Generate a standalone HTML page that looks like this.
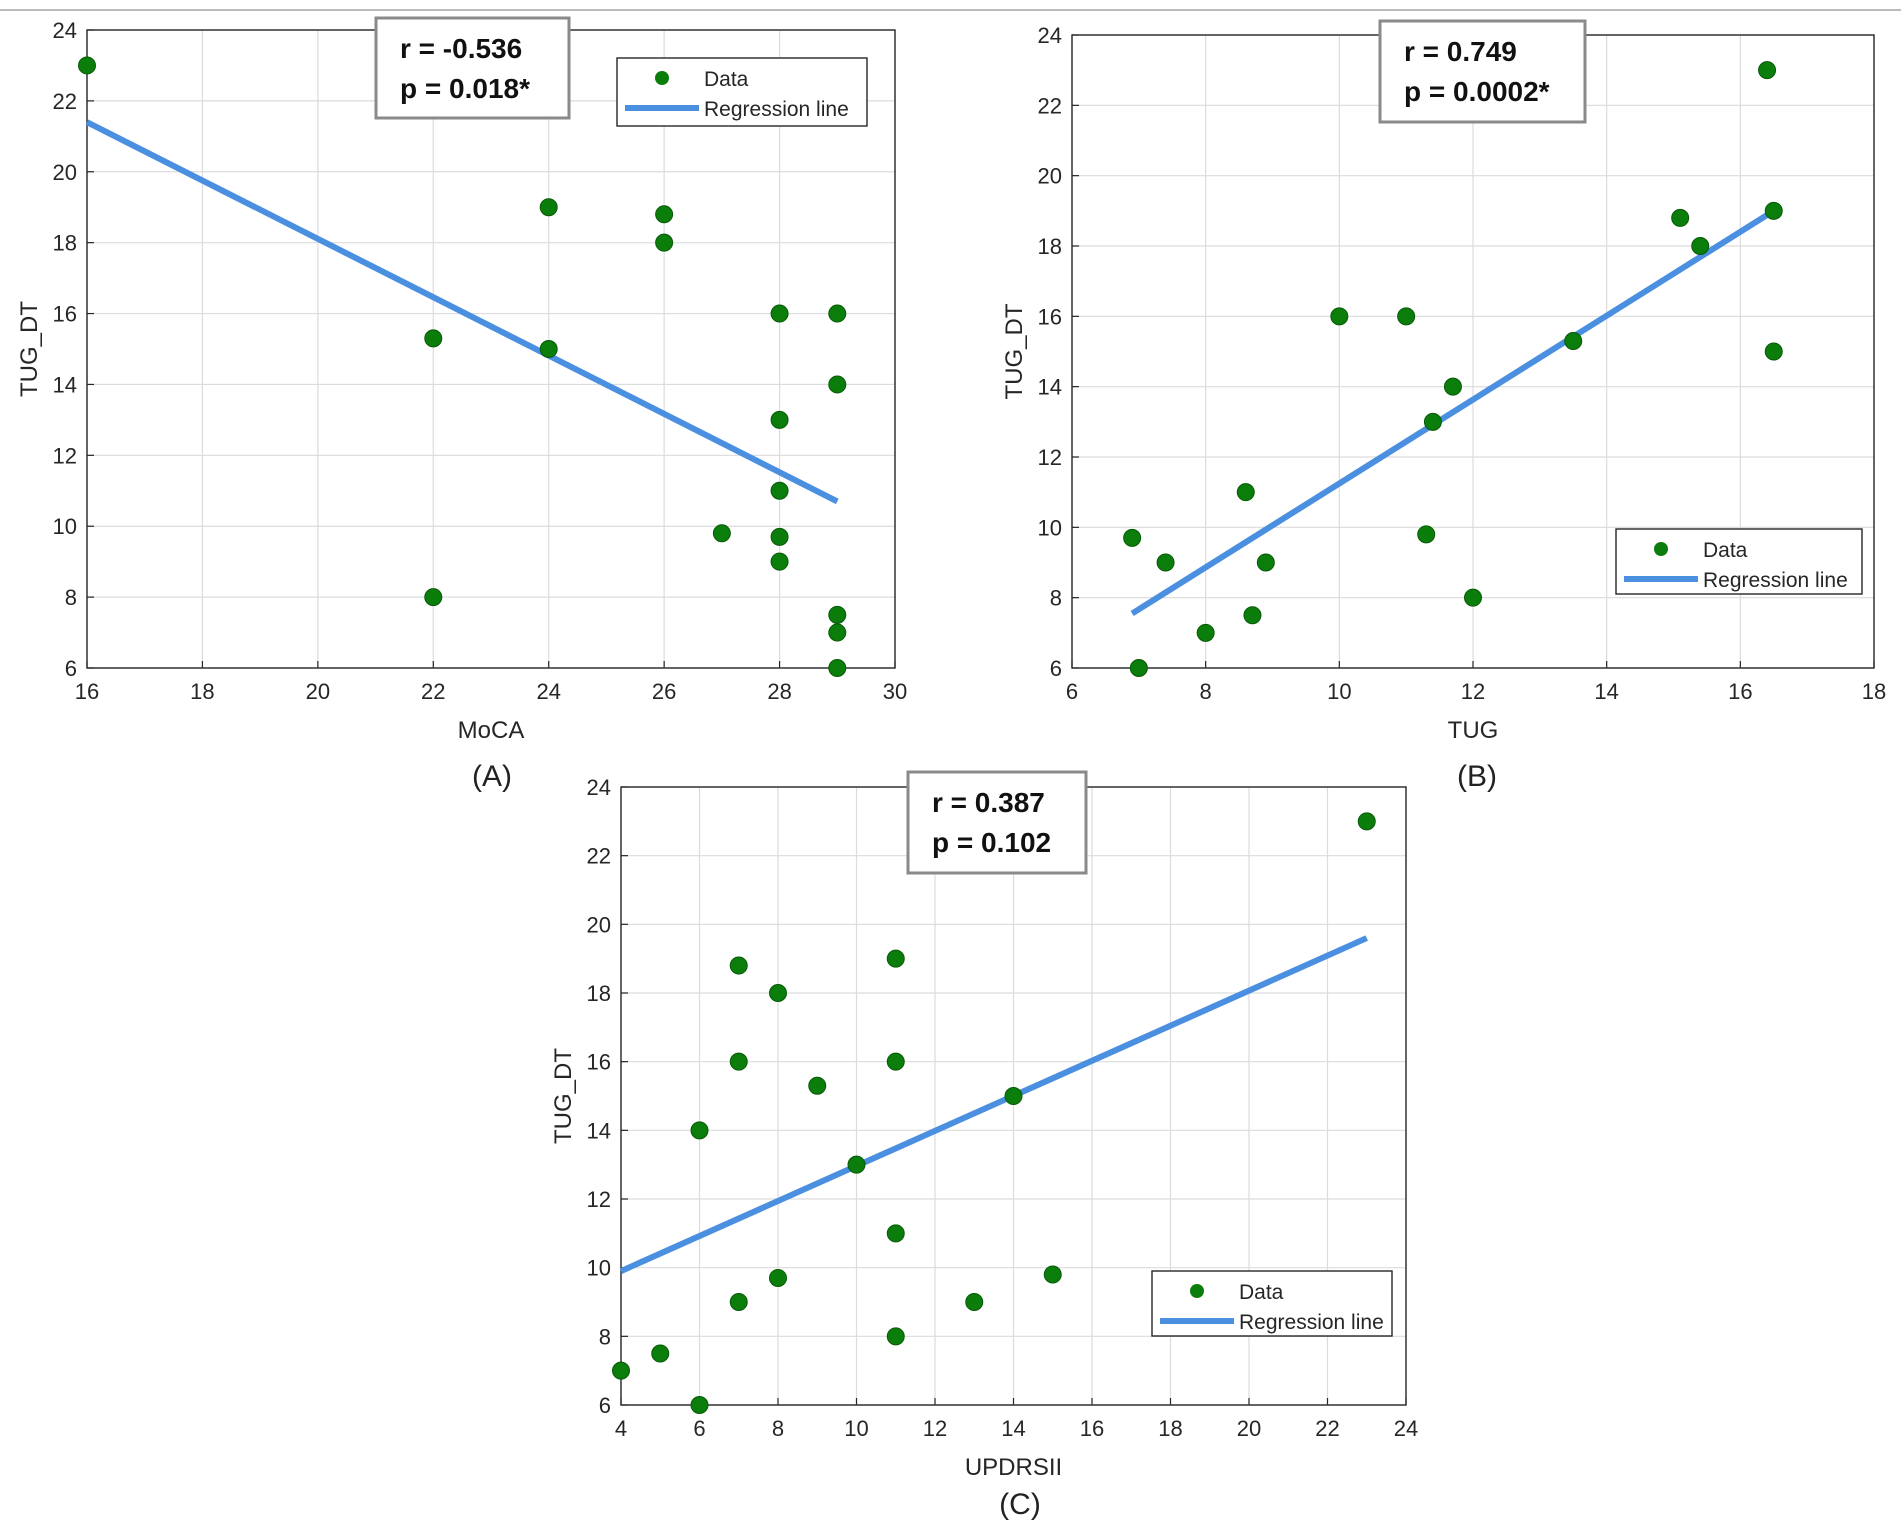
<!DOCTYPE html>
<html><head><meta charset="utf-8"><style>
html,body{margin:0;padding:0;background:#fff;}
svg{display:block;font-family:"Liberation Sans",Arial,sans-serif;}
</style></head><body>
<svg id="fig" width="1901" height="1528" viewBox="0 0 1901 1528" xmlns="http://www.w3.org/2000/svg">
<line x1="0" y1="10" x2="1901" y2="10" stroke="#bbb" stroke-width="2"/>
</svg>
<script>
// Panel A data
const aX=[16,22,22,24,24,26,26,27,28,28,28,28,28,29,29,29,29,29];
const aY=[23,15.3,8,19,15,18.8,18,9.8,16,13,11,9.7,9,16,14,7.5,7,6];
const aLine=[[16,21.4],[29,10.7]];
// Panel B data
const bX=[6.9,7,7.4,8,8.6,8.7,8.9,10,11,11.3,11.4,11.7,12,13.5,15.1,15.4,16.4,16.5,16.5];
const bY=[9.7,6,9,7,11,7.5,9,16,16,9.8,13,14,8,15.3,18.8,18,23,19,15];
const bLine=[[6.9,7.55],[16.5,19]];
// Panel C data
const cX=[4,5,6,6,7,7,7,8,8,9,10,11,11,11,11,13,14,15,23];
const cY=[7,7.5,6,14,18.8,16,9,18,9.7,15.3,13,19,16,11,8,9,15,9.8,23];
const cLine=[[4,9.9],[23,19.6]];
const aXT=[16,18,20,22,24,26,28,30];
const bXT=[6,8,10,12,14,16,18];
const cXT=[4,6,8,10,12,14,16,18,20,22,24];
const yT=[6,8,10,12,14,16,18,20,22,24];

const NS='http://www.w3.org/2000/svg';
const svg=document.getElementById('fig');
function mk(tag,attrs,parent,text){const e=document.createElementNS(NS,tag);for(const k in attrs)e.setAttribute(k,attrs[k]);if(text!==undefined)e.textContent=text;(parent||svg).appendChild(e);return e;}

function panel(id,box,xd,xs,ys,line,xt,xlabel,stat,sbox,leg,tag){
  const [L,T,R,B]=box;
  const g=mk('g',{});
  
  
  const sx=v=>L+(v-xd[0])/(xd[1]-xd[0])*(R-L);
  const sy=v=>B-(v-6)/(24-6)*(B-T);
  mk('rect',{x:L,y:T,width:R-L,height:B-T,fill:'#fff'},g);
  xt.forEach(v=>{const l=mk('line',{x1:sx(v),x2:sx(v),y1:T,y2:B,stroke:'#dcdcdc','stroke-width':1.2},g);
    const t=mk('text',{x:sx(v),y:B+31,'font-size':22,'text-anchor':'middle',fill:'#262626'},g,v);
    mk('line',{x1:sx(v),x2:sx(v),y1:B,y2:B-7,stroke:'#262626','stroke-width':1.2},g);});
  yT.forEach(v=>{const l=mk('line',{x1:L,x2:R,y1:sy(v),y2:sy(v),stroke:'#dcdcdc','stroke-width':1.2},g);
    const t=mk('text',{x:L-10,y:sy(v)+8,'font-size':22,'text-anchor':'end',fill:'#262626'},g,v);
    mk('line',{x1:L,x2:L+7,y1:sy(v),y2:sy(v),stroke:'#262626','stroke-width':1.2},g);});
  const fr=mk('rect',{x:L,y:T,width:R-L,height:B-T,fill:'none',stroke:'#262626','stroke-width':1.4},g);
  
  const xl=mk('text',{x:(L+R)/2,y:B+70,'font-size':24,'text-anchor':'middle',fill:'#262626'},g,xlabel);
  
  const yl=mk('text',{x:0,y:0,'font-size':24,'text-anchor':'middle',fill:'#262626',transform:`translate(${L-50},${(T+B)/2}) rotate(-90)`},g,'TUG_DT');
  
  const rl=mk('line',{x1:sx(line[0][0]),y1:sy(line[0][1]),x2:sx(line[1][0]),y2:sy(line[1][1]),stroke:'#4a8fe0','stroke-width':6},g);
  
  xs.forEach((v,i)=>{const c=mk('circle',{cx:sx(v),cy:sy(ys[i]),r:8.5,fill:'#0b7d0b',stroke:'#075a07','stroke-width':1},g);
    });
  const [bx,by,bw,bh]=sbox;
  const sb=mk('rect',{x:bx,y:by,width:bw,height:bh,fill:'#fff',stroke:'#8a8a8a','stroke-width':3},g);
  
  const t1=mk('text',{x:bx+24,y:by+40,'font-size':28,'font-weight':'bold',fill:'#111'},g,stat[0]);
  
  const t2=mk('text',{x:bx+24,y:by+80,'font-size':28,'font-weight':'bold',fill:'#111'},g,stat[1]);
  
  const [lx,ly,lw,lh]=leg;
  const lg=mk('rect',{x:lx,y:ly,width:lw,height:lh,fill:'#fff',stroke:'#262626','stroke-width':1.4},g);
  
  mk('circle',{cx:lx+45,cy:ly+20,r:7,fill:'#0b7d0b'},g);
  const d=mk('text',{x:lx+87,y:ly+28,'font-size':21,fill:'#262626'},g,'Data');
  
  mk('line',{x1:lx+8,x2:lx+82,y1:ly+50,y2:ly+50,stroke:'#4a8fe0','stroke-width':6},g);
  const rr=mk('text',{x:lx+87,y:ly+58,'font-size':21,fill:'#262626'},g,'Regression line');
  
  const pl=mk('text',{x:tag[1],y:tag[2],'font-size':30,'text-anchor':'middle',fill:'#222'},g,tag[0]);
  
}
panel('a',[87,30,895,668],[16,30],aX,aY,aLine,aXT,'MoCA',['r = -0.536','p = 0.018*'],[376,18,193,100],[617,58,250,68],['(A)',492,786]);
panel('b',[1072,35,1874,668],[6,18],bX,bY,bLine,bXT,'TUG',['r = 0.749','p = 0.0002*'],[1380,21,205,101],[1616,529,246,65],['(B)',1477,786]);
panel('c',[621,787,1406,1405],[4,24],cX,cY,cLine,cXT,'UPDRSII',['r = 0.387','p = 0.102'],[908,772,178,101],[1152,1271,240,65],['(C)',1020,1514]);
</script>
</body></html>
